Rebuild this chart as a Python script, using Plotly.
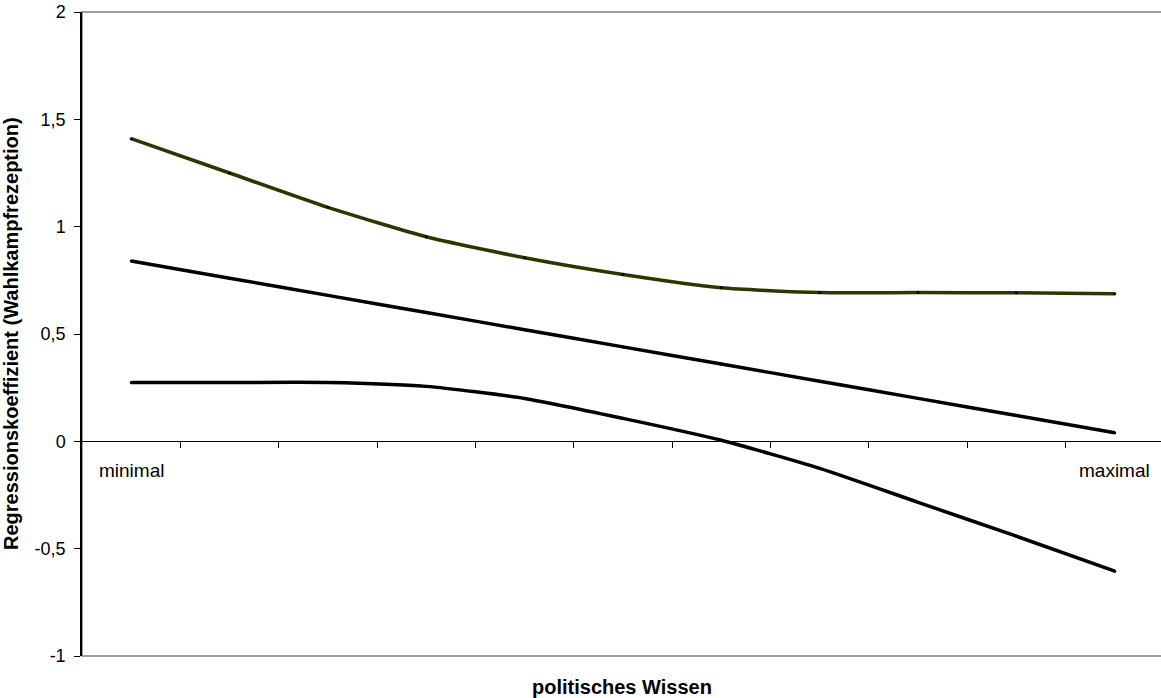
import plotly.graph_objects as go

categories = list(range(11))
upper = [1.41, 1.25, 1.09, 0.953, 0.855, 0.777, 0.715, 0.693, 0.693, 0.692, 0.688]
middle = [0.84, 0.76, 0.68, 0.60, 0.52, 0.44, 0.36, 0.28, 0.20, 0.12, 0.04]
lower = [0.274, 0.274, 0.274, 0.256, 0.20, 0.107, 0.005, -0.126, -0.284, -0.442, -0.605]
end_labels = ["minimal", "maximal"]
y_ticks = [-1, -0.5, 0, 0.5, 1, 1.5, 2]
y_tick_text = ["-1", "-0,5", "0", "0,5", "1", "1,5", "2"]

FONT = "Liberation Sans, Arial, sans-serif"

fig = go.Figure()
series = [(upper, "#333300"), (middle, "#000000"), (lower, "#000000")]
for vals, col in series:
    fig.add_trace(go.Scatter(
        x=categories, y=vals, mode="lines+markers",
        line=dict(color=col, width=3.5, shape="spline", smoothing=0.6),
        marker=dict(color="#000000", size=3),
        showlegend=False, hoverinfo="skip"))

fig.add_annotation(x=categories[0], y=0, yshift=-29, text=end_labels[0],
                   showarrow=False, font=dict(family=FONT, size=19, color="black"))
fig.add_annotation(x=categories[-1], y=0, yshift=-29, text=end_labels[1],
                   showarrow=False, font=dict(family=FONT, size=19, color="black"))

# plot-area border (gray)
fig.add_shape(type="rect", xref="paper", yref="paper", x0=0, x1=1.01, y0=0, y1=1,
              line=dict(color="#808080", width=1.5), layer="below")

fig.update_layout(
    width=1161, height=698,
    margin=dict(l=82, r=0, t=12, b=42),
    paper_bgcolor="white", plot_bgcolor="white",
    font=dict(family=FONT, size=18, color="black"),
    xaxis=dict(
        range=[-0.5, 10.47], anchor="free", position=1/3,
        tickvals=[i + 0.5 for i in range(10)], showticklabels=False,
        ticks="outside", ticklen=6, tickcolor="black", tickwidth=1,
        showline=True, linecolor="black", linewidth=1.2,
        showgrid=False, zeroline=False,
    ),
    yaxis=dict(
        range=[-1, 2], tickvals=y_ticks, ticktext=y_tick_text,
        ticks="outside", ticklen=6, tickcolor="black", tickwidth=1,
        ticklabelstandoff=5,
        showline=True, linecolor="black", linewidth=1.5,
        showgrid=False, zeroline=False,
        tickfont=dict(family=FONT, size=18),
    ),
)
fig.add_annotation(xref="paper", yref="paper", x=(11 - 82) / 1079, y=0.5,
                   text="<b>Regressionskoeffizient (Wahlkampfrezeption)</b>",
                   textangle=-90, showarrow=False, xanchor="center", yanchor="middle",
                   font=dict(family=FONT, size=20, color="black"))
fig.add_annotation(xref="paper", yref="paper", x=0.5, y=0, yshift=-44,
                   text="<b>politisches Wissen</b>", showarrow=False,
                   font=dict(family=FONT, size=20, color="black"))

fig.write_html("out.html")
